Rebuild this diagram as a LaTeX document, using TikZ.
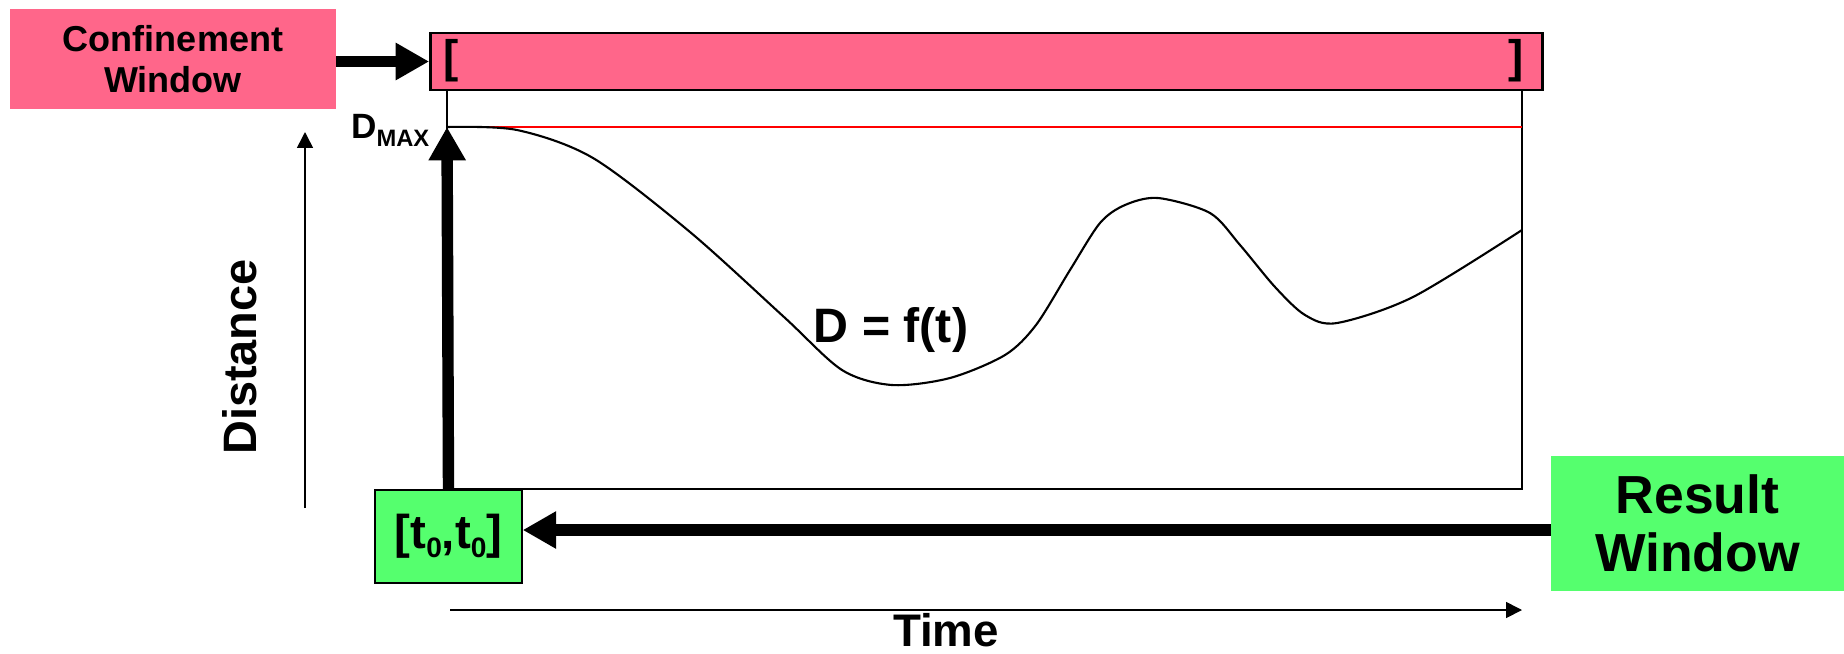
\documentclass[tikz,border=0pt]{standalone}
\usepackage{fontspec}
\setmainfont{Liberation Sans}
\usetikzlibrary{arrows.meta}
\definecolor{confpink}{RGB}{255,102,138}
\definecolor{resgreen}{RGB}{85,255,110}
\newcommand{\sz}[1]{\bfseries\fontsize{#1}{1.15\dimexpr#1pt\relax}\selectfont}
\newcommand{\lowsub}[2]{\raisebox{-#1}{\fontsize{16}{16}\selectfont #2}}

\begin{document}
\begin{tikzpicture}[x=0.02cm,y=-0.02cm,
  bigarrow/.style={line width=6.5pt,-{Triangle[length=19pt,width=20pt]}},
  axisarrow/.style={line width=0.9pt,-{Triangle[length=9pt,width=9pt]}},
  winbox/.style={inner sep=0pt,align=center}]
\useasboundingbox (0,0) rectangle (1844,653);
% plot frame and the curve
\coordinate (dmax) at (447,127);
\draw[line width=1.1pt] (447,90) -- (447,489) -- (1522,489) -- (1522,90);
\draw[red,line width=1.1pt] (dmax) -- (1522,127);
\draw[line width=1.2pt] plot[smooth,tension=0.5] coordinates {(447,127) (517,130) (593,158) (690,232) (784,317) (842,370) (892,385) (950,378) (1005,355) (1036,325) (1070,270) (1100,223) (1125,205) (1158,198) (1210,213) (1240,245) (1275,287) (1305,315) (1337,323) (1413,297) (1522,230)};
\node[anchor=base,font=\sz{27.5}] (fun) at (891,342) {D = f(t)};
% confinement window
\node[draw,line width=1.5pt,fill=confpink,minimum width=633pt,minimum height=32.4pt,inner sep=0pt] (bar) at (986.5,61.5) {};
\node[font=\sz{26}] (lbr) at (451,61) {[};
\node[font=\sz{26}] (rbr) at (1516,61) {]};
\node[winbox,fill=confpink,minimum width=185.5pt,minimum height=56.9pt,font=\bfseries\fontsize{20.5}{23.3}\selectfont] (conf) at (173,59) {Confinement\\Window};
\draw[bigarrow] (conf.east |- bar.west) -- (bar.west);
% result window
\node[winbox,fill=resgreen,minimum width=166.7pt,minimum height=76.8pt,font=\bfseries\fontsize{30.5}{33}\selectfont] (result) at (1697.5,523.5) {Result\\Window};
\node[draw,line width=0.8pt,fill=resgreen,minimum width=83.7pt,minimum height=52.9pt,inner sep=0pt,font=\sz{27}] (tzero) at (448.5,536.5) {[t\lowsub{5pt}{0},t\lowsub{5pt}{0}]};
\draw[bigarrow] (result.west |- 0,530) -- (tzero.east |- 0,530);
\draw[bigarrow] (tzero.north) -- (dmax);
\node[anchor=base west,font=\sz{20}] (dmaxlbl) at (345,138) {D\raisebox{-5pt}{\fontsize{13.5}{15}\selectfont MAX}};
% axes
\coordinate (tstart) at (450,610);
\coordinate (tend) at (1522,610);
\coordinate (dstart) at (305,508);
\coordinate (dend) at (305,132);
\draw[axisarrow] (tstart) -- (tend);
\draw[axisarrow] (dstart) -- (dend);
\node[anchor=base,font=\sz{26}] (time) at (946,646) {Time};
\node[rotate=90,font=\sz{26.7}] (dist) at (240,357) {Distance};
\end{tikzpicture}
\end{document}
